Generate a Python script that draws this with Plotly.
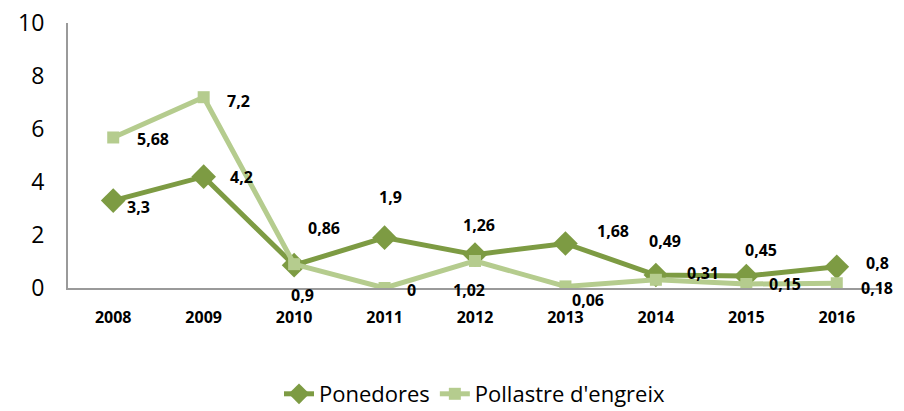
import plotly.graph_objects as go

years = ["2008", "2009", "2010", "2011", "2012", "2013", "2014", "2015", "2016"]
ponedores = [3.3, 4.2, 0.86, 1.9, 1.26, 1.68, 0.49, 0.45, 0.8]
pollastre = [5.68, 7.2, 0.9, 0, 1.02, 0.06, 0.31, 0.15, 0.18]
names = ["Ponedores", "Pollastre d'engreix"]
y_ticks = [0, 2, 4, 6, 8, 10]

dark = "#7d9b43"
light = "#b5cc8e"
font = "Open Sans"

fig = go.Figure()
fig.add_trace(go.Scatter(x=years, y=ponedores, name=names[0], mode="lines+markers",
                         line=dict(color=dark, width=5),
                         marker=dict(symbol="diamond", size=19, color=dark)))
fig.add_trace(go.Scatter(x=years, y=pollastre, name=names[1], mode="lines+markers",
                         line=dict(color=light, width=5),
                         marker=dict(symbol="square", size=12, color=light)))

def fmt(v):
    return ("%g" % v).replace(".", ",")

pon_shift = [(25, -6), (38, 0), (30, 37), (6, 41), (4, 30), (48, 12), (9, 34), (15, 26), (41, 4)]
pol_shift = [(40, -2), (35, -4), (8, -31), (27, -2), (-6, -29), (23, -14), (47, 7), (39, 0), (40, -5)]

for vals, shifts in ((ponedores, pon_shift), (pollastre, pol_shift)):
    for i, (v, (dx, dy)) in enumerate(zip(vals, shifts)):
        fig.add_annotation(x=i, y=v, xref="x", yref="y", text="<b>" + fmt(v) + "</b>",
                           showarrow=False, xshift=dx, yshift=dy,
                           font=dict(family=font, size=16, color="black"))

fig.update_layout(
    width=904, height=411,
    margin=dict(l=68, r=22, t=23, b=123, autoexpand=False),
    paper_bgcolor="white", plot_bgcolor="white",
    font=dict(family=font, color="black"),
    showlegend=True,
    legend=dict(orientation="h", x=0.5, xanchor="center", y=-0.4, yanchor="middle",
                font=dict(size=22, family=font), traceorder="normal"),
)
fig.update_xaxes(type="category", range=[-0.5, 8.5], showgrid=False,
                 showline=True, linecolor="#9a9a9a", linewidth=2,
                 ticks="outside", ticklen=14, tickcolor="rgba(0,0,0,0)",
                 tickfont=dict(size=16, family=font),
                 tickprefix="<b>", ticksuffix="</b>")
fig.update_yaxes(range=[0, 10], tickvals=y_ticks, showgrid=False, zeroline=False,
                 showline=True, linecolor="#9a9a9a", linewidth=2,
                 ticks="outside", ticklen=17, tickcolor="rgba(0,0,0,0)",
                 tickfont=dict(size=23, family=font))

fig.write_html("out.html", config={"displayModeBar": False},
               post_script="document.body.style.margin='0';")
